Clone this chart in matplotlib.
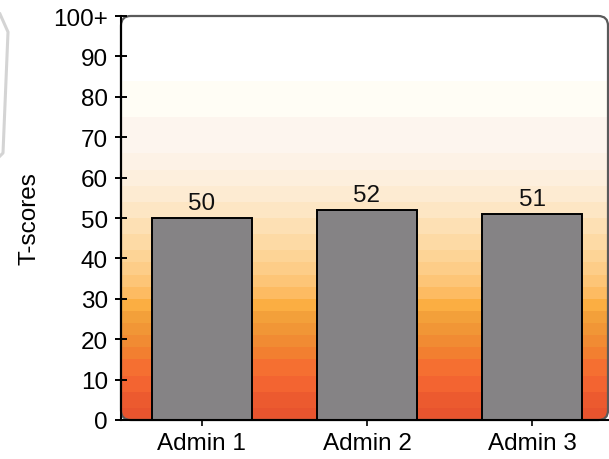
import numpy as np
import matplotlib
matplotlib.use("Agg")
import matplotlib.pyplot as plt
from matplotlib.patches import FancyBboxPatch
from matplotlib.lines import Line2D
from matplotlib.colors import to_rgb

plt.rcParams['font.family'] = ['Liberation Sans', 'DejaVu Sans']

categories = ["Admin 1", "Admin 2", "Admin 3"]
scores = [50, 52, 51]
ytick_values = [0, 10, 20, 30, 40, 50, 60, 70, 80, 90, 100]
ytick_labels = ["0", "10", "20", "30", "40", "50", "60", "70", "80", "90", "100+"]

# banded background: (upper bound of band in score units, colour)
bands = [
    (3, "#e8542e"), (7, "#ec5a2f"), (11, "#f36431"), (15, "#f56f31"),
    (18, "#f27f30"), (21, "#f18b33"), (24, "#f19636"), (27, "#f3a03a"),
    (30, "#fbae42"), (33, "#fdbb62"), (36, "#fdc577"), (39, "#fdcd88"),
    (42, "#fdd496"), (46, "#fddaa5"), (50, "#fde0b4"), (54, "#fde6c4"),
    (58, "#fdebd2"), (62, "#fdefdd"), (66, "#fdf2e6"), (75, "#fdf5ee"),
    (84, "#fffdf5"), (101, "#ffffff"),
]

FS = 17.5
W, H = 609, 460
fig = plt.figure(figsize=(W / 100, H / 100), dpi=100)
left, right, top, bottom = 121, 608, 17, 421
ax = fig.add_axes([left / W, (H - bottom) / H, (right - left) / W, (bottom - top) / H])

x = np.arange(len(categories))
x0, x1 = -0.49, 2.46
ax.set_xlim(x0, x1)
ax.set_ylim(0, 100)

# stepped gradient image
res = 1010
ys = np.linspace(0, 101, res)
img = np.zeros((res, 1, 3))
for i, yv in enumerate(ys):
    for ub, c in bands:
        if yv < ub:
            img[i, 0] = to_rgb(c)
            break
im = ax.imshow(img, extent=[x0, x1, 0, 101], origin="lower", aspect="auto",
               interpolation="nearest", zorder=0)

aw = (right - left)
ah = (bottom - top)
frame = FancyBboxPatch((0, 0), 1, 1, boxstyle="round,pad=0,rounding_size=0.02",
                       mutation_aspect=aw / ah, transform=ax.transAxes,
                       facecolor="none", edgecolor="#5a5a5a", linewidth=1.6,
                       zorder=1, clip_on=False)
ax.add_patch(frame)
im.set_clip_path(frame)

bars = ax.bar(x, scores, width=0.605, color="#858385", edgecolor="black",
              linewidth=1.4, zorder=2)
for xi, v in zip(x, scores):
    ax.text(xi, v + 1.0, str(v), ha="center", va="bottom", fontsize=FS,
            color="#111111", zorder=3)

for s in ("top", "right"):
    ax.spines[s].set_visible(False)
for s in ("left", "bottom"):
    ax.spines[s].set_linewidth(1.5)
    ax.spines[s].set_color("black")
    ax.spines[s].set_zorder(4)

ax.set_yticks(ytick_values)
ax.set_yticklabels(ytick_labels, fontsize=FS)
ax.set_xticks(x)
ax.set_xticklabels(categories, fontsize=FS)
ax.tick_params(axis="y", direction="inout", length=9, width=1.4, pad=5)
ax.tick_params(axis="x", direction="out", length=4, width=1.2, pad=5)
ax.set_ylabel("T-scores", fontsize=FS)
ax.yaxis.set_label_coords((40 - left) / aw, 0.5)

# faint decorative stroke at the left margin
pts = [(0, 15), (8, 33), (3, 154), (0, 157)]
fig.add_artist(Line2D([p[0] / W for p in pts], [1 - p[1] / H for p in pts],
                      transform=fig.transFigure, color="#d4d4d4", linewidth=2.2))

fig.savefig("out.png", dpi=100)
